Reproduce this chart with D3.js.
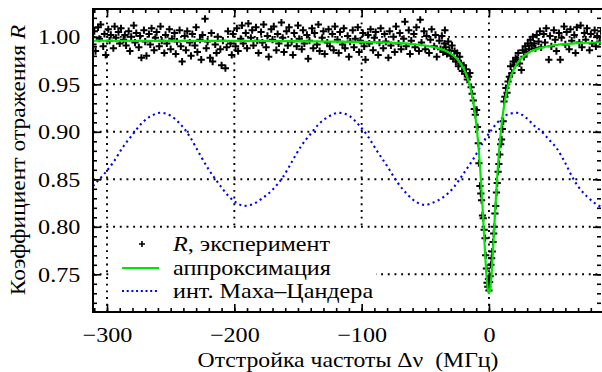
<!DOCTYPE html>
<html>
<head>
<meta charset="utf-8">
<script src="https://cdn.jsdelivr.net/npm/d3@7"></script>
<style>
  body { margin: 0; background: #fff; }
  svg { display: block; }
  text { font-family: "Liberation Serif", "Times New Roman", serif; }
</style>
</head>
<body>
<div id="chart"></div>
<script>
// tick values and labels
var xTicks = [-300, -200, -100, 0];
var yTicks = [0.75, 0.8, 0.85, 0.9, 0.95, 1.0];

// experiment: [detuning MHz, R]
var experiment = [
  [-311,0.992],[-310,1.006],[-309,0.985],[-307,1.010],[-306,0.998],[-305,1.013],[-303,0.990],[-302,1.003],[-301,0.981],
  [-299,1.008],[-298,0.996],[-297,1.002],[-295,0.988],[-294,1.011],[-293,0.999],[-291,1.005],[-290,0.993],[-289,1.009],
  [-287,0.997],[-286,1.002],[-285,0.991],[-283,1.006],[-282,0.985],[-281,1.000],[-279,1.012],[-278,0.994],[-277,1.004],
  [-275,0.989],[-274,1.001],[-273,0.978],[-271,1.007],[-270,0.995],[-269,0.980],[-267,1.003],[-266,0.992],[-265,1.009],
  [-263,0.986],[-262,0.999],[-261,1.005],[-259,0.990],[-258,1.011],[-257,0.996],[-255,0.983],[-254,1.002],[-253,0.993],
  [-251,1.008],[-250,0.987],[-249,0.998],[-247,1.004],[-246,0.982],[-245,0.995],[-243,1.007],[-242,0.990],[-241,0.974],
  [-239,1.001],[-238,0.986],[-237,1.006],[-235,0.994],[-234,0.980],[-233,1.003],[-231,0.991],[-230,1.010],[-229,0.984],
  [-227,0.997],[-226,0.976],[-225,1.002],[-223,1.019],[-222,0.988],[-221,0.995],[-219,0.978],[-218,1.004],[-217,0.974],
  [-215,0.992],[-214,0.983],[-213,1.000],[-211,0.987],[-210,0.970],[-209,0.996],[-207,0.967],[-206,0.989],[-205,1.006],
  [-203,0.993],[-202,0.981],[-201,1.003],[-199,0.990],[-198,1.009],[-197,0.985],[-195,0.998],[-194,1.012],[-193,0.993],
  [-191,1.004],[-190,0.988],[-189,1.014],[-187,0.999],[-186,1.007],[-185,0.991],[-183,1.010],[-182,0.996],[-181,0.983],
  [-179,1.005],[-178,0.994],[-177,1.013],[-175,0.989],[-174,1.001],[-173,0.979],[-171,1.008],[-170,0.997],[-169,1.011],
  [-167,0.986],[-166,1.003],[-165,0.993],[-163,1.015],[-162,0.999],[-161,0.984],[-159,1.006],[-158,0.991],[-157,1.010],
  [-155,0.995],[-154,0.981],[-153,1.004],[-151,0.990],[-150,1.012],[-149,0.998],[-147,0.987],[-146,1.007],[-145,0.993],
  [-143,1.002],[-142,0.977],[-141,0.996],[-139,1.009],[-138,0.988],[-137,1.004],[-135,0.992],[-134,1.013],[-133,0.985],
  [-131,0.999],[-130,1.006],[-129,0.982],[-127,0.994],[-126,1.008],[-125,0.990],[-123,1.003],[-122,0.986],[-121,1.011],
  [-119,0.997],[-118,0.983],[-117,1.005],[-115,0.992],[-114,1.009],[-113,0.988],[-111,1.001],[-110,0.979],[-109,0.995],
  [-107,1.007],[-106,0.989],[-105,0.998],[-103,1.010],[-102,0.984],[-101,0.996],[-99,1.004],[-98,0.990],[-97,0.976],
  [-95,1.002],[-94,0.993],[-93,1.008],[-91,0.986],[-90,0.999],[-89,1.005],[-87,0.981],[-86,0.994],[-85,1.009],
  [-83,0.988],[-82,1.003],[-81,0.995],[-79,0.978],[-78,1.006],[-77,0.991],[-75,1.000],[-74,0.984],[-73,1.011],
  [-71,0.993],[-70,1.004],[-69,0.987],[-67,0.998],[-66,1.016],[-65,0.990],[-63,1.007],[-62,0.982],[-61,0.996],
  [-59,1.003],[-58,0.989],[-57,1.010],[-55,0.985],[-54,1.018],[-53,0.994],[-51,1.006],[-50,0.987],[-49,1.001],
  [-47,0.983],[-46,0.997],[-45,1.008],[-43,0.990],[-42,1.002],[-41,0.979],
  [-39,0.996],[-38,0.987],[-37,1.001],[-36,0.984],[-35,0.993],[-34.6,1.007],[-34,0.989],[-33,0.982],[-32,0.995],
  [-31,0.986],[-30,0.980],[-29,0.991],[-28,0.977],[-27,0.985],[-26,0.974],[-25,0.983],[-24,0.969],[-23,0.979],
  [-22,0.972],[-21,0.964],[-20,0.970],[-19,0.961],[-18,0.966],[-17,0.955],[-16,0.958],[-15,0.962],[-14,0.947],
  [-13.2,0.940],[-12.3,0.933],[-11.5,0.924],[-10.7,0.918],[-9.7,0.923],[-9.0,0.905],[-8.4,0.888],[-7.9,0.867],
  [-7.1,0.843],[-6.4,0.835],[-5.8,0.828],[-5.1,0.812],[-4.5,0.809],[-3.8,0.797],[-3.1,0.788],[-2.6,0.770],
  [-2.0,0.756],[-1.5,0.741],[-0.9,0.737],[-0.4,0.745],[0,0.733],
  [0.5,0.742],[0.9,0.748],[1.5,0.760],[2.1,0.767],[2.6,0.774],[3.2,0.784],[3.7,0.793],[4.2,0.800],[4.7,0.814],
  [5.3,0.822],[5.9,0.836],[6.5,0.846],[7.2,0.858],[7.8,0.866],[8.5,0.876],[9.2,0.887],[9.9,0.892],[10.5,0.903],
  [11.2,0.911],[11.8,0.932],[12.5,0.937],[13.3,0.946],[14.2,0.941],[15,0.953],[16,0.958],[17,0.969],[18,0.962],
  [19,0.974],[20,0.970],[21,0.978],[22,0.976],[23,0.983],[24,0.972],[25.5,0.965],[26.5,0.986],[27.5,0.979],
  [28.5,0.990],[29.5,0.984],[30.5,0.993],[31.5,0.987],[32.5,0.997],[33.5,0.991],[34.5,1.000],[35.5,0.993],
  [36.5,0.988],[37.5,1.002],
  [39,0.995],[40,1.006],[41,0.989],[43,1.003],[44,0.994],[45,1.009],[47,0.976],[48,1.001],[49,0.990],
  [51,1.007],[52,0.997],[53,0.985],[55,1.004],[56,0.976],[57,0.999],[59,1.011],[60,0.992],[61,1.005],
  [63,0.987],[64,1.008],[65,0.996],[67,1.002],[68,0.983],[69,1.010],[71,0.994],[72,1.012],[73,0.989],
  [75,1.004],[76,0.997],[77,1.009],[79,0.986],[80,1.003],[81,0.993],[83,1.007],[84,0.990],[85,1.001],
  [87,0.995],[88,1.006]
];

// Lorentzian fit
var fit = [
  [-311,0.9959],[-250,0.9958],[-200,0.9957],[-150,0.9954],[-100,0.9947],[-80,0.9940],[-60,0.9924],[-50,0.9909],
  [-40,0.9881],[-35,0.9858],[-30,0.9823],[-25,0.9767],[-20,0.9670],[-17,0.9574],[-14,0.9428],[-12,0.9285],
  [-10,0.9085],[-9,0.8957],[-8,0.8807],[-7,0.8630],[-6,0.8427],[-5,0.8199],[-4,0.7955],[-3,0.7713],[-2,0.7500],
  [-1,0.7353],[0,0.7300],[1,0.7353],[2,0.7500],[3,0.7713],[4,0.7955],[5,0.8199],[6,0.8427],[7,0.8630],
  [8,0.8807],[9,0.8957],[10,0.9085],[12,0.9285],[14,0.9428],[17,0.9574],[20,0.9670],[25,0.9767],[30,0.9823],
  [35,0.9858],[40,0.9881],[50,0.9909],[60,0.9924],[70,0.9934],[88,0.9943]
];

// Mach-Zehnder interferometer trace
var machZehnder = [
  [-311,0.843],[-302,0.856],[-295,0.868],[-288,0.883],[-280,0.897],[-272,0.910],[-265,0.917],[-258,0.920],
  [-250,0.917],[-243,0.909],[-235,0.895],[-227,0.876],[-220,0.860],[-212,0.845],[-205,0.833],[-198,0.825],
  [-192,0.822],[-185,0.824],[-178,0.830],[-170,0.839],[-162,0.852],[-155,0.868],[-148,0.884],[-140,0.898],
  [-133,0.909],[-126,0.916],[-118,0.920],[-110,0.917],[-102,0.907],[-95,0.895],[-88,0.880],[-80,0.864],
  [-72,0.847],[-64,0.834],[-57,0.826],[-50,0.823],[-43,0.826],[-36,0.831],[-28,0.841],[-20,0.856],
  [-12,0.872],[-5,0.888],[2,0.902],[9,0.913],[16,0.919],[22,0.920],[29,0.915],[36,0.906],[40,0.902],
  [47,0.892],[53,0.883],[60,0.867],[66,0.851],[72,0.839],[77,0.832],[83,0.825],[88,0.821]
];

var legendLabels = ["эксперимент", "аппроксимация", "инт. Маха\u2013Цандера"];

var W = 602, H = 372;
var pl = 93, pr = 601, pt = 9, pb = 312;
var stretch = 1.15; // glyphs in the reference are wider than Liberation Serif
var serif = "Liberation Serif, Times New Roman, serif";

var x = d3.scaleLinear().domain([-311, 88]).range([pl, pr]);
var y = d3.scaleLinear().domain([0.7103, 1.0293]).range([pb, pt]);

var svg = d3.select("#chart").append("svg").attr("width", W).attr("height", H);
svg.append("rect").attr("width", W).attr("height", H).attr("fill", "#fff");

svg.append("defs").append("clipPath").attr("id", "plotclip")
  .append("rect").attr("x", pl).attr("y", pt).attr("width", pr - pl).attr("height", pb - pt);

// dotted grid
var grid = svg.append("g").attr("stroke", "#000").attr("stroke-width", 1.9).attr("stroke-dasharray", "1.9,4.8");
grid.selectAll(".gx").data(xTicks).enter().append("line")
  .attr("x1", (d) => x(d)).attr("x2", (d) => x(d)).attr("y1", pt).attr("y2", pb);
grid.selectAll(".gy").data(yTicks).enter().append("line")
  .attr("x1", pl).attr("x2", pr).attr("y1", (d) => y(d)).attr("y2", (d) => y(d));

var plot = svg.append("g").attr("clip-path", "url(#plotclip)");

plot.append("path").datum(machZehnder)
  .attr("d", d3.line().x((d) => x(d[0])).y((d) => y(d[1])).curve(d3.curveMonotoneX))
  .attr("fill", "none").attr("stroke", "#0000ff").attr("stroke-width", 2.1)
  .attr("stroke-dasharray", "2.1,3.4");

// "+" markers
plot.append("g").selectAll("path").data(experiment).enter().append("path")
  .attr("transform", (d) => "translate(" + x(d[0]) + "," + y(d[1]) + ")")
  .attr("d", "M-3.6,0H3.6M0,-3.6V3.6")
  .attr("stroke", "#000").attr("stroke-width", 2);

plot.append("path").datum(fit)
  .attr("d", d3.line().x((d) => x(d[0])).y((d) => y(d[1])).curve(d3.curveMonotoneX))
  .attr("fill", "none").attr("stroke", "#00e600").attr("stroke-width", 2.2);

// legend
var lg = svg.append("g");
lg.append("rect").attr("x", 110).attr("y", 229).attr("width", 266).attr("height", 82).attr("fill", "#fff");
lg.append("path").attr("d", "M139,244H145M142,241V247").attr("stroke", "#000").attr("stroke-width", 1.6);
lg.append("line").attr("x1", 122).attr("x2", 159).attr("y1", 268).attr("y2", 268)
  .attr("stroke", "#00e600").attr("stroke-width", 2.2);
lg.append("line").attr("x1", 122).attr("x2", 159).attr("y1", 291).attr("y2", 291)
  .attr("stroke", "#0000ff").attr("stroke-width", 2).attr("stroke-dasharray", "2,2.7");
var t0 = lg.append("text").attr("transform", "translate(173,251) scale(" + stretch + ",1)")
  .attr("font-family", serif).attr("font-size", 21);
t0.append("tspan").attr("font-style", "italic").text("R");
t0.append("tspan").text(", " + legendLabels[0]);
lg.append("text").attr("transform", "translate(173,275) scale(" + stretch + ",1)")
  .attr("font-family", serif).attr("font-size", 21).text(legendLabels[1]);
lg.append("text").attr("transform", "translate(173,298) scale(" + stretch + ",1)")
  .attr("font-family", serif).attr("font-size", 21).text(legendLabels[2]);

// axes with inward ticks on all sides
var fmtX = (d) => (d < 0 ? "\u2212" + Math.abs(d) : d);
var minorX = d3.range(-310, 89, 10);
var minorY = d3.range(0.72, 1.03, 0.01);

function styleAxis(g) {
  g.attr("font-family", serif);
  g.select(".domain").remove();
  g.selectAll("line").attr("stroke", "#000").attr("stroke-width", 1.6);
  g.selectAll("text").attr("font-size", 21).attr("fill", "#000").attr("font-family", serif)
    .attr("transform", "scale(" + stretch + ",1)");
}

svg.append("g").attr("transform", "translate(0," + pb + ")")
  .call(d3.axisBottom(x).tickValues(minorX).tickSize(-4).tickFormat("")).call(styleAxis);
svg.append("g").attr("transform", "translate(0," + pb + ")")
  .call(d3.axisBottom(x).tickValues(xTicks).tickSize(-8).tickPadding(15).tickFormat(fmtX)).call(styleAxis);
svg.append("g").attr("transform", "translate(0," + pt + ")")
  .call(d3.axisTop(x).tickValues(minorX).tickSize(-4).tickFormat("")).call(styleAxis);
svg.append("g").attr("transform", "translate(0," + pt + ")")
  .call(d3.axisTop(x).tickValues(xTicks).tickSize(-8).tickFormat("")).call(styleAxis);

svg.append("g").attr("transform", "translate(" + pl + ",0)")
  .call(d3.axisLeft(y).tickValues(minorY).tickSize(-4).tickFormat("")).call(styleAxis);
svg.append("g").attr("transform", "translate(" + pl + ",0)")
  .call(d3.axisLeft(y).tickValues(yTicks).tickSize(-8).tickPadding(11).tickFormat(d3.format(".2f"))).call(styleAxis);
svg.append("g").attr("transform", "translate(" + pr + ",0)")
  .call(d3.axisRight(y).tickValues(minorY).tickSize(-4).tickFormat("")).call(styleAxis);
svg.append("g").attr("transform", "translate(" + pr + ",0)")
  .call(d3.axisRight(y).tickValues(yTicks).tickSize(-8).tickFormat("")).call(styleAxis);

// frame
svg.append("rect").attr("x", pl).attr("y", pt).attr("width", pr - pl + 2).attr("height", pb - pt)
  .attr("fill", "none").attr("stroke", "#000").attr("stroke-width", 2);

// axis titles
svg.append("text").attr("transform", "translate(348,367) scale(1.13,1)")
  .attr("text-anchor", "middle").attr("font-family", serif).attr("font-size", 21)
  .attr("xml:space", "preserve")
  .text("Отстройка частоты \u0394\u03bd  (МГц)");

var yt = svg.append("text").attr("transform", "translate(25,160) rotate(-90) scale(1.12,1)")
  .attr("text-anchor", "middle").attr("font-family", serif).attr("font-size", 21);
yt.append("tspan").text("Коэффициент отражения ");
yt.append("tspan").attr("font-style", "italic").text("R");
</script>
</body>
</html>
